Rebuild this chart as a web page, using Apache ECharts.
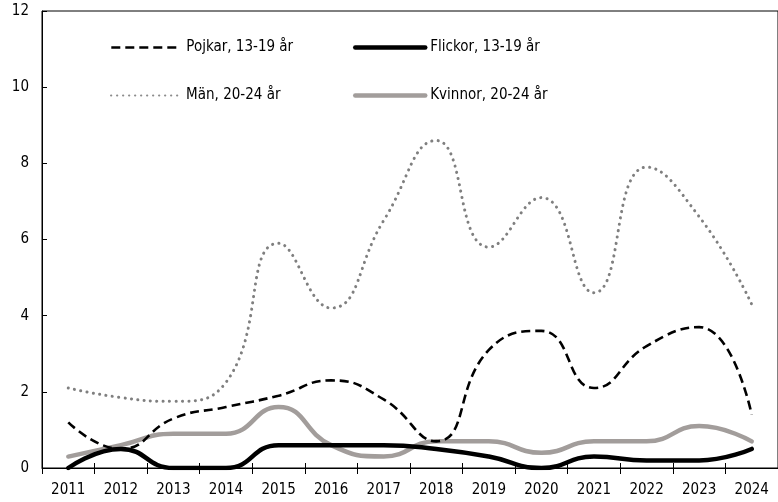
<!DOCTYPE html>
<html>
<head>
<meta charset="utf-8">
<script src="https://cdn.jsdelivr.net/npm/echarts@6/dist/echarts.min.js"></script>
<style>
  html, body { margin: 0; padding: 0; background: #fff; }
  #chart { width: 778px; height: 502px; }
</style>
</head>
<body>
<div id="chart"></div>
<script>
// Years on the category axis
const years = ['2011','2012','2013','2014','2015','2016','2017','2018','2019','2020','2021','2022','2023','2024'];

// Series values per year
const pojkar  = [1.2, 0.5, 1.3, 1.6, 1.9, 2.3, 1.8, 0.7, 3.1, 3.6, 2.1, 3.2, 3.7, 1.4];
const flickor = [0.0, 0.5, 0.0, 0.0, 0.6, 0.6, 0.6, 0.5, 0.3, 0.0, 0.3, 0.2, 0.2, 0.5];
const man     = [2.1, 1.85, 1.75, 2.25, 5.9, 4.2, 6.5, 8.6, 5.8, 7.1, 4.6, 7.9, 6.6, 4.3];
const kvinnor = [0.3, 0.6, 0.9, 0.9, 1.6, 0.6, 0.3, 0.7, 0.7, 0.4, 0.7, 0.7, 1.1, 0.7];

// Legend labels
const namePojkar  = 'Pojkar, 13-19 år';
const nameFlickor = 'Flickor, 13-19 år';
const nameMan     = 'Män, 20-24 år';
const nameKvinnor = 'Kvinnor, 20-24 år';

const FONT = "'DejaVu Sans Condensed', 'Liberation Sans', sans-serif";

// Line looks of the four series
const stylePojkar  = { color: '#000', width: 2.6, type: [9, 5] };
const styleFlickor = { color: '#000', width: 4.5, cap: 'round' };
const styleMan     = { color: '#7f7f7f', width: 3, type: [0.1, 6.3], cap: 'round' };
const styleKvinnor = { color: '#a29d9b', width: 4.5, cap: 'round' };

// Legend swatches (a little finer than the plotted lines)
const keyPojkar  = { color: '#000', width: 2.6, type: [9, 5], cap: 'butt' };
const keyFlickor = { color: '#000', width: 4.5, cap: 'round' };
const keyMan     = { color: '#8c8c8c', width: 2.2, type: [0.1, 5.9], cap: 'round' };
const keyKvinnor = { color: '#a29d9b', width: 4.5, cap: 'round' };

const chart = echarts.init(document.getElementById('chart'), null, { renderer: 'canvas' });

function legendAt(name, left, top, lineStyle) {
  return {
    data: [name],
    left: left,
    top: top,
    itemWidth: 70,
    itemHeight: 14,
    padding: 0,
    selectedMode: false,
    itemStyle: { opacity: 0 },
    lineStyle: lineStyle,
    textStyle: { fontFamily: FONT, fontSize: 15, color: '#000' }
  };
}

chart.setOption({
  animation: false,
  backgroundColor: '#fff',
  grid: {
    left: 42, top: 11, right: -10, bottom: 34,
    show: true, borderColor: '#000', borderWidth: 1, backgroundColor: 'transparent'
  },
  legend: [
    legendAt(namePojkar, 110, 40, keyPojkar),
    legendAt(nameFlickor, 353, 40, keyFlickor),
    legendAt(nameMan, 110, 88, keyMan),
    legendAt(nameKvinnor, 353, 88, keyKvinnor)
  ],
  xAxis: [
    {
      type: 'category',
      data: years,
      position: 'bottom',
      boundaryGap: true,
      axisLine: { show: true, lineStyle: { color: '#000', width: 1 } },
      axisTick: { show: true, inside: false, length: 6, lineStyle: { color: '#000' } },
      axisLabel: { fontFamily: FONT, fontSize: 15, color: '#000', margin: 15 }
    },
    {
      type: 'category',
      data: years,
      position: 'bottom',
      boundaryGap: true,
      axisLine: { show: false },
      axisTick: { show: true, inside: true, length: 5, lineStyle: { color: '#000' } },
      axisLabel: { show: false }
    }
  ],
  yAxis: {
    type: 'value',
    min: 0, max: 12, interval: 2,
    axisLine: { show: true, lineStyle: { color: '#000', width: 1 } },
    axisTick: { show: true, inside: true, length: 5, lineStyle: { color: '#000' } },
    splitLine: { show: false },
    axisLabel: { fontFamily: FONT, fontSize: 15, color: '#000', margin: 13 }
  },
  series: [
    {
      name: namePojkar, type: 'line', data: pojkar, smooth: true, symbol: 'none',
      lineStyle: stylePojkar, itemStyle: { color: '#000' }, z: 4
    },
    {
      name: nameFlickor, type: 'line', data: flickor, smooth: true, symbol: 'none',
      lineStyle: styleFlickor, itemStyle: { color: '#000' }, z: 3
    },
    {
      name: nameMan, type: 'line', data: man, smooth: true, symbol: 'none',
      lineStyle: styleMan, itemStyle: { color: '#7f7f7f' }, z: 2
    },
    {
      name: nameKvinnor, type: 'line', data: kvinnor, smooth: true, symbol: 'none',
      lineStyle: styleKvinnor, itemStyle: { color: '#a29d9b' }, z: 2
    }
  ]
});
</script>
</body>
</html>
